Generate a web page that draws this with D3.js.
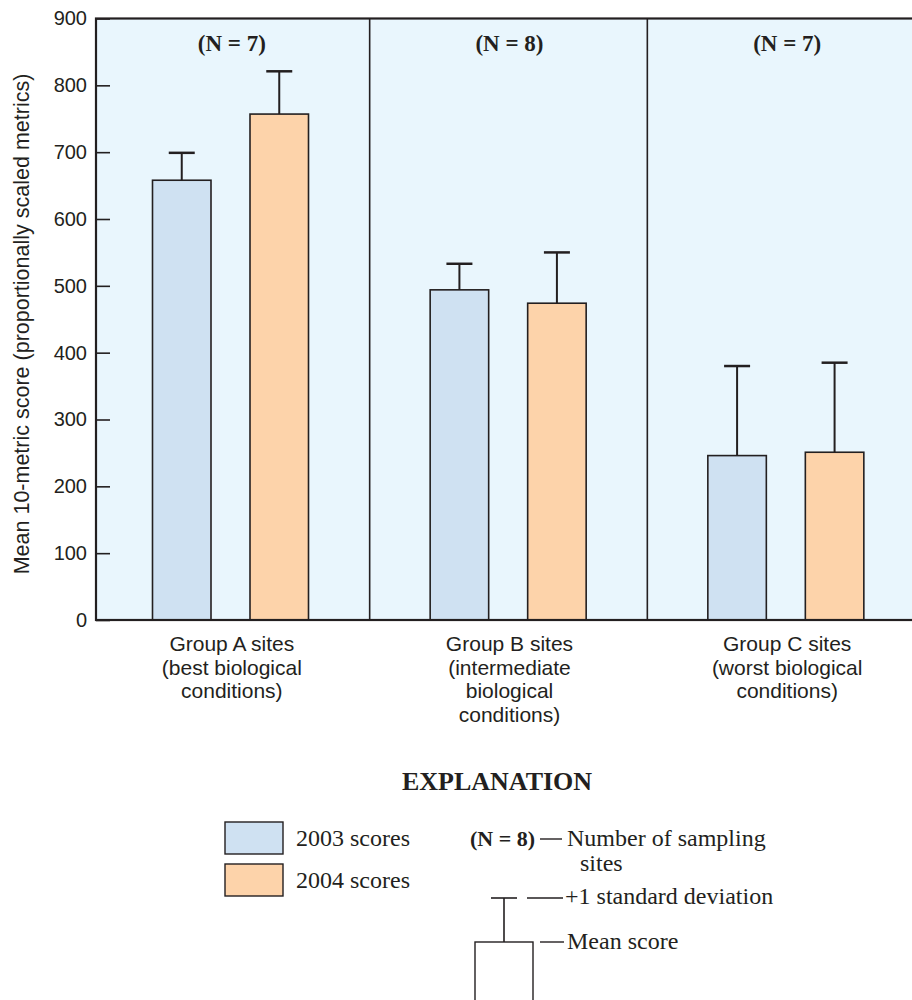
<!DOCTYPE html>
<html>
<head>
<meta charset="utf-8">
<script src="https://cdn.jsdelivr.net/npm/d3@7/dist/d3.min.js"></script>
<style>
  html, body { margin: 0; padding: 0; background: #ffffff; }
  svg { display: block; }
</style>
</head>
<body>
<svg id="chart" width="912" height="1000"></svg>
<script>
// ---------------- data ----------------
const groups = ["A", "B", "C"];
const groupLabels = [
  ["Group A sites", "(best biological", "conditions)"],
  ["Group B sites", "(intermediate", "biological", "conditions)"],
  ["Group C sites", "(worst biological", "conditions)"]
];
const groupN = ["(N = 7)", "(N = 8)", "(N = 7)"];
const years = ["2003", "2004"];
const mean2003 = [658, 494, 246];
const mean2004 = [757, 474, 251];
const sd2003top = [699, 533, 380];
const sd2004top = [821, 550, 385];
const yTicks = [0, 100, 200, 300, 400, 500, 600, 700, 800, 900];
const yTitle = "Mean 10-metric score (proportionally scaled metrics)";
const legendLabels = ["2003 scores", "2004 scores"];

// ---------------- style ----------------
const ink = "#231f20";
const bg = "#e9f6fd";
const colors = { "2003": "#cfe1f2", "2004": "#fdd3aa" };
const sansFont = "'Liberation Sans', Arial, sans-serif";
const serifFont = "'Liberation Serif', 'Times New Roman', serif";

const svg = d3.select("#chart");

const frameLeft = 96, frameRight = 926;
const y = d3.scaleLinear().domain([0, 900]).range([620, 18.5]);
const x0 = d3.scaleBand().domain(groups).range([92, 925]);
const x1 = d3.scaleBand().domain(years).range([60.5, 216.5]).paddingInner(0.4);

const rows = groups.map((g, i) => ({
  g, i,
  vals: [
    { year: "2003", mean: mean2003[i], top: sd2003top[i] },
    { year: "2004", mean: mean2004[i], top: sd2004top[i] }
  ]
}));

// background
svg.append("rect")
  .attr("x", frameLeft).attr("y", y(900))
  .attr("width", frameRight - frameLeft).attr("height", y(0) - y(900))
  .attr("fill", bg);

// dividers between groups
svg.selectAll("line.divider")
  .data(groups.slice(1))
  .join("line")
  .attr("class", "divider")
  .attr("x1", d => x0(d)).attr("x2", d => x0(d))
  .attr("y1", y(900)).attr("y2", y(0))
  .attr("stroke", ink).attr("stroke-width", 1.6);

// bars
const gGroup = svg.selectAll("g.grp")
  .data(rows)
  .join("g")
  .attr("class", "grp")
  .attr("transform", d => `translate(${x0(d.g)},0)`);

gGroup.selectAll("line.stem")
  .data(d => d.vals)
  .join("line")
  .attr("class", "stem")
  .attr("x1", d => x1(d.year) + x1.bandwidth() / 2)
  .attr("x2", d => x1(d.year) + x1.bandwidth() / 2)
  .attr("y1", d => y(d.mean)).attr("y2", d => y(d.top))
  .attr("stroke", ink).attr("stroke-width", 2);

gGroup.selectAll("line.cap")
  .data(d => d.vals)
  .join("line")
  .attr("class", "cap")
  .attr("x1", d => x1(d.year) + x1.bandwidth() / 2 - 13)
  .attr("x2", d => x1(d.year) + x1.bandwidth() / 2 + 13)
  .attr("y1", d => y(d.top)).attr("y2", d => y(d.top))
  .attr("stroke", ink).attr("stroke-width", 2.5);

gGroup.selectAll("rect.bar")
  .data(d => d.vals)
  .join("rect")
  .attr("class", "bar")
  .attr("x", d => x1(d.year))
  .attr("y", d => y(d.mean))
  .attr("width", x1.bandwidth())
  .attr("height", d => y(0) - y(d.mean))
  .attr("fill", d => colors[d.year])
  .attr("stroke", ink).attr("stroke-width", 1.6);

// N labels
gGroup.append("text")
  .attr("x", x0.bandwidth() / 2 + 1)
  .attr("y", 51)
  .attr("text-anchor", "middle")
  .attr("font-family", serifFont).attr("font-weight", "bold")
  .attr("font-size", 23).attr("fill", ink)
  .text(d => groupN[d.i]);

// axes
const leftAxis = d3.axisLeft(y).tickValues(yTicks).tickSize(-14).tickPadding(9).tickFormat(d3.format("d"));
const gl = svg.append("g").attr("transform", `translate(${frameLeft},0)`).call(leftAxis);
gl.select(".domain").remove();
gl.selectAll(".tick line").attr("stroke", ink).attr("stroke-width", 1.6);
gl.selectAll(".tick text")
  .attr("font-family", sansFont).attr("font-size", 20)
  .attr("fill", ink);

const rightAxis = d3.axisRight(y).tickValues(yTicks.slice(1, -1)).tickSize(-14).tickFormat("");
const gr = svg.append("g").attr("transform", `translate(${frameRight},0)`).call(rightAxis);
gr.select(".domain").remove();
gr.selectAll(".tick line").attr("stroke", ink).attr("stroke-width", 1.6);

// frame
svg.append("rect")
  .attr("x", frameLeft).attr("y", y(900))
  .attr("width", frameRight - frameLeft).attr("height", y(0) - y(900))
  .attr("fill", "none").attr("stroke", ink).attr("stroke-width", 2.2);

// category labels
gGroup.append("text")
  .attr("text-anchor", "middle")
  .attr("font-family", sansFont).attr("font-size", 21)
  .attr("fill", ink)
  .selectAll("tspan")
  .data(d => groupLabels[d.i])
  .join("tspan")
  .attr("x", x0.bandwidth() / 2 + 1)
  .attr("y", (d, k) => 651 + k * 23.5)
  .text(d => d);

// y title
svg.append("text")
  .attr("transform", "translate(29,324) rotate(-90)")
  .attr("text-anchor", "middle")
  .attr("font-family", sansFont).attr("font-size", 21.5)
  .attr("fill", ink)
  .text(yTitle);

// ---------------- explanation ----------------
svg.append("text")
  .attr("x", 497).attr("y", 790)
  .attr("text-anchor", "middle")
  .attr("font-family", serifFont).attr("font-weight", "bold")
  .attr("font-size", 26).attr("fill", ink)
  .text("EXPLANATION");

const leg = svg.selectAll("g.leg")
  .data(years)
  .join("g")
  .attr("class", "leg")
  .attr("transform", (d, i) => `translate(225,${822 + i * 42})`);
leg.append("rect")
  .attr("width", 58).attr("height", 32)
  .attr("fill", d => colors[d]).attr("stroke", ink).attr("stroke-width", 1.4);
leg.append("text")
  .attr("x", 71).attr("y", 24)
  .attr("font-family", serifFont).attr("font-size", 24).attr("fill", ink)
  .text((d, i) => legendLabels[i]);

const ex = svg.append("g");
const txt = (x, yy, s, bold, fs) => ex.append("text")
  .attr("x", x).attr("y", yy)
  .attr("font-family", serifFont).attr("font-size", fs || 24)
  .attr("font-weight", bold ? "bold" : "normal").attr("fill", ink).text(s);
const ln = (xa, ya, xb, yb, w) => ex.append("line")
  .attr("x1", xa).attr("y1", ya).attr("x2", xb).attr("y2", yb)
  .attr("stroke", ink).attr("stroke-width", w || 1.4);

txt(470, 846, "(N = 8)", true, 22);
ln(540, 839, 562, 839);
txt(567, 846, "Number of sampling", false);
txt(580, 871, "sites", false);

// schematic bar
ex.append("rect").attr("x", 475).attr("y", 942).attr("width", 58).attr("height", 80)
  .attr("fill", "#ffffff").attr("stroke", ink).attr("stroke-width", 1.4);
ln(504, 942, 504, 898, 1.6);
ln(491, 898, 517, 898, 1.6);
ln(527, 898, 563, 898);
txt(565, 904, "+1 standard deviation", false);
ln(540, 942, 564, 942);
txt(567, 949, "Mean score", false);
</script>
</body>
</html>
